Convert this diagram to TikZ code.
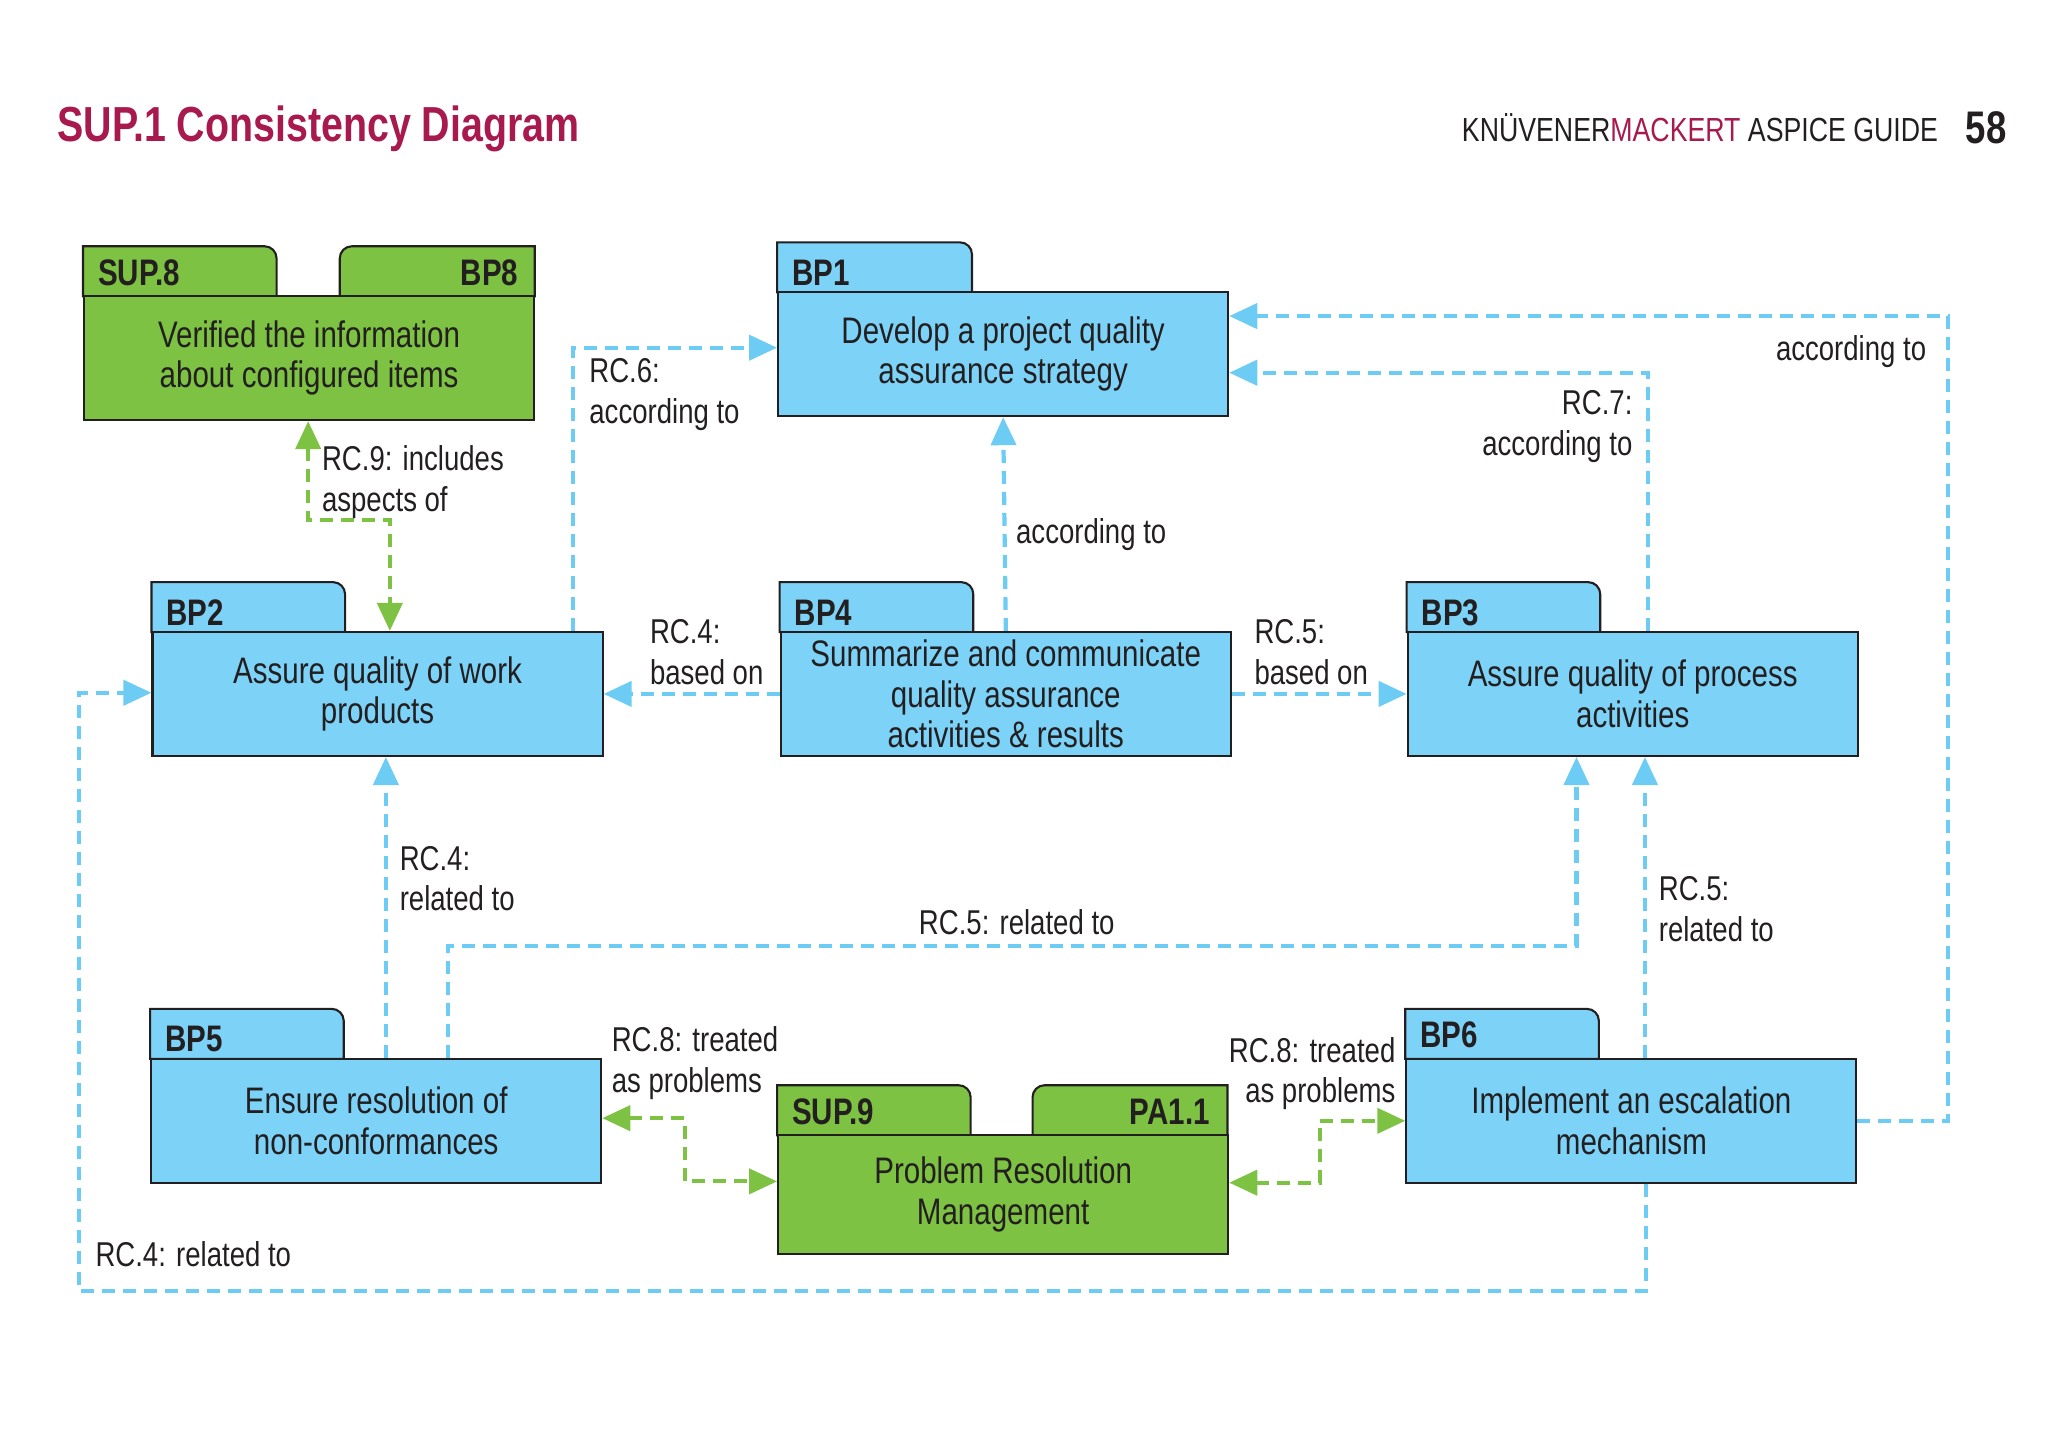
\documentclass[tikz,border=0pt]{standalone}
\usepackage{fontspec}
\setmainfont[FakeStretch=0.8]{Liberation Sans}
\usetikzlibrary{arrows.meta}
\definecolor{qblue}{HTML}{7DD3F7}
\definecolor{qline}{HTML}{6CCCF4}
\definecolor{qgreen}{HTML}{7DC242}
\definecolor{crim}{HTML}{A8194D}
\definecolor{dk}{HTML}{231F20}
\begin{document}
\begin{tikzpicture}[x=0.01317cm,y=-0.01317cm,
 box/.style={draw=dk,line width=0.6pt,anchor=north west,minimum width=4.5cm,minimum height=1.24cm,inner sep=1pt,align=center,font=\fontsize{10.5}{11.5}\selectfont,text=dk},
 bbox/.style={box,fill=qblue},
 gbox/.style={box,fill=qgreen},
 tabt/.style={font=\bfseries\fontsize{10.5}{12}\selectfont,text=dk,inner sep=0pt},
 lbl/.style={font=\fontsize{9.8}{11.5}\selectfont,text=dk,inner sep=0pt,align=left},
 bl/.style={draw=qline,line width=1.2pt,dash pattern=on 1.3mm off 0.8mm,-{Triangle[length=2.8mm,width=2.5mm]}},
 gr/.style={draw=qgreen,line width=1.2pt,dash pattern=on 1.3mm off 0.8mm,{Triangle[length=2.8mm,width=2.5mm]}-{Triangle[length=2.8mm,width=2.5mm]}}]
\useasboundingbox (0,0) rectangle (1555,1103);
\newcommand\tabL[5]{\draw[draw=dk,line width=0.6pt,fill=#5] (#1,#4) -- (#1,#3) [rounded corners=1.2mm]-- (#2,#3) [sharp corners]-- (#2,#4) -- cycle;}
\newcommand\tabR[5]{\draw[draw=dk,line width=0.6pt,fill=#5] (#2,#4) -- (#2,#3) [rounded corners=1.2mm]-- (#1,#3) [sharp corners]-- (#1,#4) -- cycle;}
% header
\node[anchor=west,font=\bfseries\fontsize{14}{16}\selectfont,text=crim,inner sep=0] (title) at (43,98) {SUP.1 Consistency Diagram};
\node[anchor=east,font=\fontsize{9.5}{11}\selectfont,text=dk,inner sep=0] (hdr) at (1472,97) {KNÜVENER\textcolor{crim}{MACKERT} ASPICE GUIDE};
\node[anchor=east,font=\bfseries\fontsize{13}{15}\selectfont,text=dk,inner sep=0] (pg) at (1524,97) {58};
% tabs
\tabL{63}{210}{187}{225}{qgreen}\tabR{258}{406}{187}{225}{qgreen}
\tabL{590}{738}{184}{222}{qblue}
\tabL{115}{262}{442}{480}{qblue}
\tabL{592}{739}{442}{480}{qblue}
\tabL{1068}{1215}{442}{480}{qblue}
\tabL{114}{261}{766}{804}{qblue}
\tabL{590}{737}{824}{862}{qgreen}\tabR{784}{932}{824}{862}{qgreen}
\tabL{1067}{1214}{766}{804}{qblue}
% boxes
\node[gbox] (sup8) at (63,224) {Verified the information\\about configured items};
\node[bbox] (bp1) at (590,221) {Develop a project quality\\assurance strategy};
\node[bbox] (bp2) at (115,479) {Assure quality of work\\products};
\node[bbox] (bp4) at (592,479) {Summarize and communicate\\quality assurance\\activities \& results};
\node[bbox] (bp3) at (1068,479) {Assure quality of process\\activities};
\node[bbox] (bp5) at (114,803) {Ensure resolution of\\non-conformances};
\node[gbox,minimum height=1.19cm] (sup9) at (590,861) {Problem Resolution\\Management};
\node[bbox] (bp6) at (1067,803) {Implement an escalation\\mechanism};
% tab texts
\node[tabt,anchor=west] (t1) at (74,207) {SUP.8};
\node[tabt,anchor=east] (t2) at (394,207) {BP8};
\node[tabt,anchor=west] (t3) at (601,207) {BP1};
\node[tabt,anchor=west] (t4) at (126,465) {BP2};
\node[tabt,anchor=west] (t5) at (603,465) {BP4};
\node[tabt,anchor=west] (t6) at (1079,465) {BP3};
\node[tabt,anchor=west] (t7) at (125,789) {BP5};
\node[tabt,anchor=west] (t8) at (601,844) {SUP.9};
\node[tabt,anchor=east] (t9) at (919,844) {PA1.1};
\node[tabt,anchor=west] (t10) at (1078,786) {BP6};
% connectors
\draw[bl] (bp2.north -| 435,0) -- (435,264) -- (bp1.west |- 0,264);
\draw[gr] (sup8.south -| 234,0) -- (234,395) -- (296,395) -- (bp2.north -| 296,0);
\draw[bl] (bp4.west) -- (bp2.east);
\draw[bl] (bp4.north) -- (bp1.south);
\draw[bl] (bp4.east) -- (bp3.west);
\draw[bl] (bp3.north -| 1251,0) -- (1251,283) -- (bp1.east |- 0,283);
\draw[bl] (bp6.east |- 0,851) -- (1479,851) -- (1479,240) -- (bp1.east |- 0,240);
\draw[bl] (bp5.north -| 293,0) -- (bp2.south -| 293,0);
\draw[bl] (bp5.north -| 340,0) -- (340,718) -- (1197,718) -- (bp3.south -| 1197,0);
\draw[bl] (bp6.north -| 1249,0) -- (bp3.south -| 1249,0);
\draw[bl] (bp6.south -| 1250,0) -- (1250,980) -- (60,980) -- (60,526) -- (bp2.west |- 0,526);
\draw[gr] (bp5.east |- 0,849) -- (520,849) -- (520,897) -- (sup9.west |- 0,897);
\draw[gr] (sup9.east |- 0,898) -- (1002,898) -- (1002,851) -- (bp6.west |- 0,851);
% labels
\node[lbl,anchor=north west] (l1) at (447,272) {RC.6:\\according to};
\node[lbl,anchor=north west] (l2) at (244,338) {RC.9: includes\\aspects of};
\node[lbl,anchor=north west] (l3) at (493,470) {RC.4:\\based on};
\node[lbl,anchor=north west] (l4) at (771,393) {according to};
\node[lbl,anchor=north west] (l5) at (952,470) {RC.5:\\based on};
\node[lbl,anchor=north east,align=right] (l6) at (1240,296) {RC.7:\\according to};
\node[lbl,anchor=north east,align=right] (l7) at (1463,254) {according to};
\node[lbl,anchor=north west] (l8) at (303,642) {RC.4:\\related to};
\node[lbl,anchor=north] (l9) at (772,690) {RC.5: related to};
\node[lbl,anchor=north west] (l10) at (1259,665) {RC.5:\\related to};
\node[lbl,anchor=north west] (l11) at (72,942) {RC.4: related to};
\node[lbl,anchor=north west] (l12) at (464,779) {RC.8: treated\\as problems};
\node[lbl,anchor=north east,align=right] (l13) at (1060,787) {RC.8: treated\\as problems};
\end{tikzpicture}
\end{document}
